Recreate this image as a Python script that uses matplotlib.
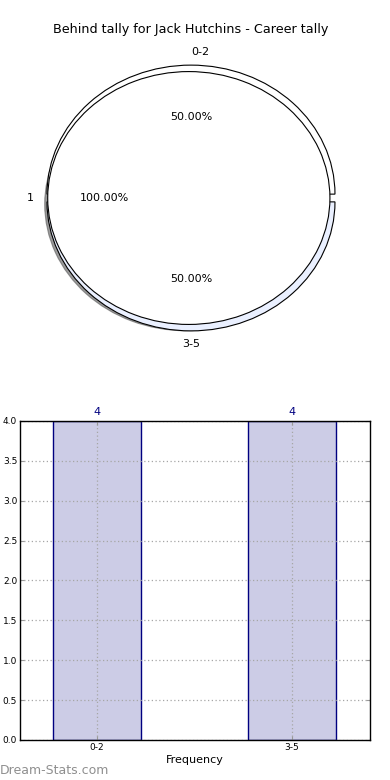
import numpy as np
import matplotlib
matplotlib.use('Agg')
import matplotlib.pyplot as plt

# data
title = 'Behind tally for Jack Hutchins - Career tally'
outer_labels = ['0-2', '3-5']
outer_values = [4, 4]
inner_labels = ['1']
inner_values = [4]
bar_labels = ['0-2', '3-5']
bar_values = [4, 4]

fig = plt.figure(figsize=(3.9, 7.8), dpi=100)

# ---- pie (not equal aspect, like old matplotlib) ----
ax1 = fig.add_axes([0.0282, 0.5394, 0.923, 0.4135])
wedges, texts, autotexts = ax1.pie(outer_values, labels=outer_labels,
                                   colors=['white', '#eaf0ff'],
                                   explode=[0.03, 0.03], autopct='%.2f%%',
                                   labeldistance=1.1, pctdistance=0.6,
                                   wedgeprops=dict(edgecolor='black', linewidth=0.8),
                                   textprops=dict(fontsize=8))
texts[0].set_ha('left')
texts[1].set_ha('center')
w2, t2, a2 = ax1.pie(inner_values, labels=inner_labels, colors=['white'],
                     radius=0.98, center=(-0.015, 0), autopct='%.2f%%',
                     labeldistance=1.1, pctdistance=0.6,
                     shadow=dict(ox=-0.015, oy=-0.035, color='0.35', alpha=0.6),
                     wedgeprops=dict(edgecolor='black', linewidth=0.8),
                     textprops=dict(fontsize=8))
ax1.set_aspect('auto')
ax1.set_xlim(-1.25, 1.25)
ax1.set_ylim(-1.25, 1.25)
ax1.set_title(title, fontsize=9.2, pad=3)

# ---- bar chart ----
ax2 = fig.add_axes([0.0513, 0.0513, 0.897, 0.409])
x = np.arange(len(bar_labels))
bars = ax2.bar(x, bar_values, width=0.45, color='#ccccе6'.replace('е', 'e'),
               edgecolor='#000080', linewidth=1.0, zorder=1)
for xi, v in zip(x, bar_values):
    ax2.text(xi, v + 0.05, str(v), ha='center', va='bottom',
             color='#000080', fontsize=8)
ax2.set_xlim(-0.395, 1.4)
ax2.set_ylim(0, 4.0)
ax2.set_xticks(x)
ax2.set_xticklabels(bar_labels)
ax2.set_yticks(np.arange(0, 4.01, 0.5))
ax2.set_yticklabels(['%.1f' % t for t in np.arange(0, 4.01, 0.5)])
ax2.tick_params(axis='both', labelsize=6.5, direction='in', length=3,
                color='0.6', pad=2, left=True, right=True, top=True, bottom=True)
ax2.set_axisbelow('line')
ax2.grid(True, linestyle=(0, (1, 2)), color='0.65', linewidth=0.9)
for s in ax2.spines.values():
    s.set_linewidth(1.0)
ax2.set_xlabel('Frequency', fontsize=8, labelpad=2)

fig.text(0.0, 0.0128, 'Dream-Stats.com', ha='left', va='center',
         fontsize=9, color='#8f8f8f')

fig.savefig('out.png', dpi=100)
